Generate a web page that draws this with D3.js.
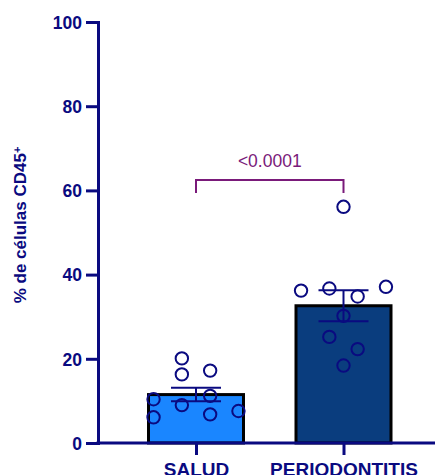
<!DOCTYPE html>
<html><head><meta charset="utf-8">
<script src="https://cdn.jsdelivr.net/npm/d3@7"></script>
<style>body{margin:0;background:#fff}svg{display:block}</style>
</head><body><svg id="c" width="435" height="475"></svg>
<script>
const categories = ["SALUD", "PERIODONTITIS"];
const means = [11.5, 32.6];
const sems = [1.6, 3.7];
const saludValues = [20.1, 16.3, 17.2, 10.4, 9.0, 11.2, 6.1, 6.8, 7.6];
const periodontitisValues = [56.1, 36.2, 36.7, 34.8, 37.1, 30.2, 25.2, 22.3, 18.4];
const yTicks = [0, 20, 40, 60, 80, 100];
const pLabel = "<0.0001";

// layout (not data): scatter column slot for each point
const saludSlots = [-0.5, -0.5, 0.5, -1.5, -0.5, 0.5, -1.5, 0.5, 1.5];
const periodSlots = [0, -1.5, -0.5, 0.5, 1.5, 0, -0.5, 0.5, 0];
const groups = [
  {values: saludValues, slots: saludSlots},
  {values: periodontitisValues, slots: periodSlots}
];
const fills = ["#1a86ff", "#0a3d7e"];
const navy = "#0a0a80";

const svg = d3.select("#c");
const y = d3.scaleLinear().domain([0, 100]).range([443, 22]);
const x = d3.scalePoint().domain(categories).range([196, 343.5]);
const barW = 95, slotW = 28.3;

svg.selectAll("rect.bar").data(categories).join("rect")
  .attr("x", d => x(d) - barW/2).attr("y", (d,i) => y(means[i]))
  .attr("width", barW).attr("height", (d,i) => y(0) - y(means[i]))
  .attr("fill", (d,i) => fills[i]).attr("stroke", "#000").attr("stroke-width", 3);

const yAxis = svg.append("g").attr("transform", "translate(98,0)")
  .call(d3.axisLeft(y).tickValues(yTicks).tickSize(12).tickPadding(4));
yAxis.select(".domain").attr("stroke", navy).attr("stroke-width", 3);
yAxis.selectAll(".tick line").attr("stroke", navy).attr("stroke-width", 3);
yAxis.selectAll(".tick text").attr("fill", navy)
  .style("font", "bold 17.5px 'Liberation Sans', Arial, sans-serif").attr("dy", "0.36em");

const xAxis = svg.append("g").attr("transform", "translate(0,443)")
  .call(d3.axisBottom(x).tickSize(12).tickPadding(8).tickSizeOuter(0));
xAxis.select(".domain").attr("d", "M96.5,0H435").attr("stroke", navy).attr("stroke-width", 3);
xAxis.selectAll(".tick line").attr("stroke", navy).attr("stroke-width", 3);
xAxis.selectAll(".tick text").attr("fill", navy)
  .style("font", "bold 19px 'Liberation Sans', Arial, sans-serif").attr("y", 20).attr("dy", "0.71em");

groups.forEach((g, gi) => {
  svg.append("g").selectAll("circle").data(g.values).join("circle")
    .attr("cx", (d,i) => x(categories[gi]) + g.slots[i]*slotW)
    .attr("cy", d => y(d)).attr("r", 6.2)
    .attr("fill", "none").attr("stroke", navy).attr("stroke-width", 2);
});

categories.forEach((c, i) => {
  const cx = x(c), hi = y(means[i] + sems[i]), lo = y(means[i] - sems[i]);
  const g = svg.append("g").attr("stroke", navy).attr("stroke-width", 2);
  g.append("line").attr("x1", cx).attr("x2", cx).attr("y1", hi).attr("y2", lo);
  g.append("line").attr("x1", cx-25).attr("x2", cx+25).attr("y1", hi).attr("y2", hi);
  g.append("line").attr("x1", cx-25).attr("x2", cx+25).attr("y1", lo).attr("y2", lo);
});

const bx1 = x(categories[0]), bx2 = x(categories[1]), by = 180;
svg.append("path").attr("d", `M${bx1},${by+13}V${by}H${bx2}V${by+13}`)
  .attr("fill", "none").attr("stroke", "#7a1a7a").attr("stroke-width", 2);
svg.append("text").attr("x", (bx1+bx2)/2).attr("y", 167).attr("text-anchor", "middle")
  .attr("fill", "#7a1a7a").style("font", "17.5px 'Liberation Sans', Arial, sans-serif").text(pLabel);

const yl = svg.append("text").attr("transform", "translate(26,225) rotate(-90)")
  .attr("text-anchor", "middle").attr("fill", navy)
  .style("font", "bold 17px 'Liberation Sans', Arial, sans-serif");
yl.append("tspan").text("% de células CD45");
yl.append("tspan").attr("dy", "-0.5em").style("font-size", "11px").text("+");
</script></body></html>
